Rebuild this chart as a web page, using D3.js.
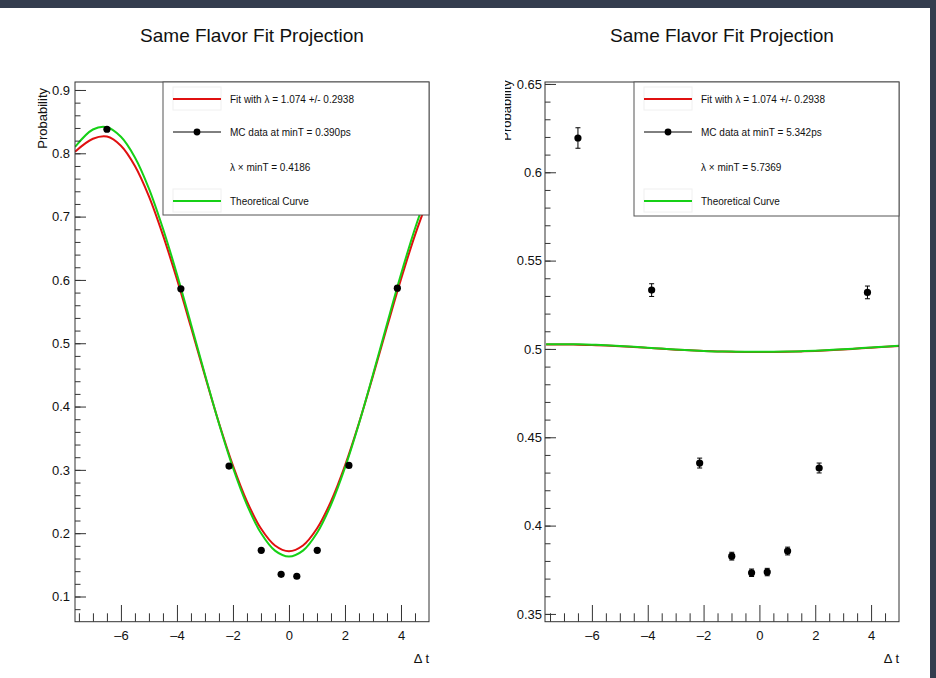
<!DOCTYPE html>
<html>
<head>
<meta charset="utf-8">
<script src="https://cdn.jsdelivr.net/npm/d3@7"></script>
<style>
html,body{margin:0;padding:0;background:#fff;}
svg{display:block;font-family:"Liberation Sans",Arial,Helvetica,sans-serif;}
</style>
</head>
<body>
<svg id="chart" width="936" height="678"></svg>
<script>
// ---------- data ----------
const titleText = "Same Flavor Fit Projection";
const yTitle = "Probability";
const xTitle = "\u0394 t";
const xMajorTicks = [-6, -4, -2, 0, 2, 4];
const xMinorTicks = [-7.5, -7, -6.5, -5.5, -5, -4.5, -3.5, -3, -2.5, -1.5, -1, -0.5, 0.5, 1, 1.5, 2.5, 3, 3.5, 4.5];
const leftYTicks = [0.1, 0.2, 0.3, 0.4, 0.5, 0.6, 0.7, 0.8, 0.9];
const rightYTicks = [0.35, 0.4, 0.45, 0.5, 0.55, 0.6, 0.65];

const pointX = [-6.5, -3.86, -2.14, -0.99, -0.28, 0.28, 1.01, 2.14, 3.87];
const leftPointY = [0.838, 0.586, 0.306, 0.173, 0.135, 0.132, 0.173, 0.307, 0.587];
const leftPointErr = [0.003, 0.003, 0.003, 0.002, 0.002, 0.002, 0.002, 0.003, 0.003];
const rightPointY = [0.6194, 0.5333, 0.4354, 0.3827, 0.3733, 0.3737, 0.3856, 0.4326, 0.532];
const rightPointErr = [0.0058, 0.0036, 0.0028, 0.0022, 0.0021, 0.0021, 0.0022, 0.0028, 0.0036];

const curveX = [-7.64, -7, -6.5, -6, -5.5, -5, -4.5, -4, -3.5, -3, -2.5, -2, -1.5, -1, -0.5, 0, 0.5, 1, 1.5, 2, 2.5, 3, 3.5, 4, 4.5, 5];
const leftFit = [0.8025, 0.823, 0.8265, 0.812, 0.780, 0.732, 0.6707, 0.601, 0.5255, 0.4485, 0.374, 0.3068, 0.2503, 0.2073, 0.1806, 0.1715, 0.1806, 0.2073, 0.2503, 0.3068, 0.374, 0.4485, 0.5255, 0.601, 0.6707, 0.7314];
const leftTheory = [0.810, 0.8376, 0.8412, 0.8261, 0.7935, 0.7443, 0.6812, 0.609, 0.5305, 0.4506, 0.3733, 0.3034, 0.2448, 0.2002, 0.1724, 0.163, 0.1724, 0.2002, 0.2448, 0.3034, 0.3733, 0.4506, 0.5305, 0.609, 0.6812, 0.7443];
const rightFit = [0.5025, 0.5025, 0.5024, 0.5022, 0.5019, 0.5015, 0.5011, 0.5006, 0.5001, 0.4996, 0.4992, 0.4988, 0.4986, 0.4984, 0.4983, 0.4983, 0.4983, 0.4984, 0.4986, 0.4989, 0.4993, 0.4997, 0.5002, 0.5007, 0.5012, 0.5017];
const rightTheory = [0.5027, 0.5027, 0.5026, 0.5024, 0.5021, 0.5017, 0.5012, 0.5007, 0.5002, 0.4997, 0.4993, 0.4989, 0.4986, 0.4985, 0.4984, 0.4984, 0.4984, 0.4985, 0.4987, 0.4990, 0.4994, 0.4998, 0.5003, 0.5008, 0.5013, 0.5018];

const legendFit = "Fit with \u03bb = 1.074 +/- 0.2938";
const legendMC = ["MC data at minT = 0.390ps", "MC data at minT = 5.342ps"];
const legendLam = ["\u03bb \u00d7 minT = 0.4186", "\u03bb \u00d7 minT = 5.7369"];
const legendTheory = "Theoretical Curve";

// ---------- layout ----------
const panels = [
  { id: 0, x0: 75, x1: 429, y0: 82, y1: 621.7, xDomain: [-7.64, 5.0], yDomain: [0.0602, 0.9126],
    yTicks: leftYTicks, yMinorStep: 0.02, pY: leftPointY, pErr: leftPointErr, fit: leftFit, theory: leftTheory,
    labelPad: 5, yTitleX: 47, yTitleEnd: 88, legX0: 163, caps: false },
  { id: 1, x0: 545, x1: 899, y0: 82, y1: 621.7, xDomain: [-7.68, 5.0], yDomain: [0.3456, 0.6511],
    yTicks: rightYTicks, yMinorStep: 0.01, pY: rightPointY, pErr: rightPointErr, fit: rightFit, theory: rightTheory,
    labelPad: 3, yTitleX: 511, yTitleEnd: 80, legX0: 634, caps: true, clipTitle: 505 }
];

const svg = d3.select("#chart");
svg.append("rect").attr("width", 936).attr("height", 678).attr("fill", "#fff");
const defs = svg.append("defs");

const RED = "#e01010", GREEN = "#16d016";

panels.forEach(p => {
  const g = svg.append("g");
  const x = d3.scaleLinear().domain(p.xDomain).range([p.x0, p.x1]);
  const y = d3.scaleLinear().domain(p.yDomain).range([p.y1, p.y0]);

  defs.append("clipPath").attr("id", "clip" + p.id)
    .append("rect").attr("x", p.x0).attr("y", p.y0).attr("width", p.x1 - p.x0).attr("height", p.y1 - p.y0);

  // title
  g.append("text").attr("x", (p.x0 + p.x1) / 2).attr("y", 42).attr("text-anchor", "middle")
    .attr("font-size", 19).attr("fill", "#111").text(titleText);

  // curves
  const plot = g.append("g").attr("clip-path", `url(#clip${p.id})`);
  const line = d3.line().x(d => x(d[0])).y(d => y(d[1])).curve(d3.curveCatmullRom);
  plot.append("path").attr("d", line(curveX.map((v, i) => [v, p.fit[i]])))
    .attr("fill", "none").attr("stroke", RED).attr("stroke-width", 2);
  plot.append("path").attr("d", line(curveX.map((v, i) => [v, p.theory[i]])))
    .attr("fill", "none").attr("stroke", GREEN).attr("stroke-width", 2);

  // points with error bars
  const pts = pointX.map((v, i) => ({ x: v, y: p.pY[i], e: p.pErr[i] }));
  const pg = plot.append("g");
  pg.selectAll("line.err").data(pts).join("line").attr("class", "err")
    .attr("x1", d => x(d.x)).attr("x2", d => x(d.x))
    .attr("y1", d => y(d.y - d.e)).attr("y2", d => y(d.y + d.e))
    .attr("stroke", "#000").attr("stroke-width", 1);
  if (p.caps) {
    ["lo", "hi"].forEach(k => {
      pg.selectAll("line.cap" + k).data(pts).join("line").attr("class", "cap" + k)
        .attr("x1", d => x(d.x) - 2.5).attr("x2", d => x(d.x) + 2.5)
        .attr("y1", d => y(k === "lo" ? d.y - d.e : d.y + d.e))
        .attr("y2", d => y(k === "lo" ? d.y - d.e : d.y + d.e))
        .attr("stroke", "#000").attr("stroke-width", 1);
    });
  }
  pg.selectAll("circle").data(pts).join("circle")
    .attr("cx", d => x(d.x)).attr("cy", d => y(d.y)).attr("r", 3.6).attr("fill", "#000");

  // axes
  const axCol = "#333";
  const xMin = g.append("g").attr("transform", `translate(0,${p.y1})`)
    .call(d3.axisBottom(x).tickValues(xMinorTicks).tickSize(-8.4).tickFormat(""));
  const xMaj = g.append("g").attr("transform", `translate(0,${p.y1})`)
    .call(d3.axisBottom(x).tickValues(xMajorTicks).tickSize(-16.7).tickPadding(9)
      .tickFormat(d => d < 0 ? "\u2013" + (-d) : String(d)));
  const yMinorVals = d3.range(Math.ceil(p.yDomain[0] / p.yMinorStep), Math.floor(p.yDomain[1] / p.yMinorStep) + 1)
    .map(k => +(k * p.yMinorStep).toFixed(4));
  const yMin = g.append("g").attr("transform", `translate(${p.x0},0)`)
    .call(d3.axisLeft(y).tickValues(yMinorVals).tickSize(-5.5).tickFormat(""));
  const yMaj = g.append("g").attr("transform", `translate(${p.x0},0)`)
    .call(d3.axisLeft(y).tickValues(p.yTicks).tickSize(-11).tickPadding(p.labelPad)
      .tickFormat(d => String(+d.toFixed(2))));
  [xMin, xMaj, yMin, yMaj].forEach(a => {
    a.select(".domain").remove();
    a.selectAll("line").attr("stroke", axCol);
    a.selectAll("text").attr("font-size", 13).attr("fill", "#111")
      .attr("font-family", "'Liberation Sans',Arial,Helvetica,sans-serif");
  });

  // frame
  g.append("rect").attr("x", p.x0).attr("y", p.y0).attr("width", p.x1 - p.x0).attr("height", p.y1 - p.y0)
    .attr("fill", "none").attr("stroke", axCol).attr("stroke-width", 1);

  // axis titles
  g.append("text").attr("x", p.x1).attr("y", 663).attr("text-anchor", "end")
    .attr("font-size", 13).attr("fill", "#111").text(xTitle);
  const yt = g.append("g");
  if (p.clipTitle) {
    defs.append("clipPath").attr("id", "tclip" + p.id).append("rect")
      .attr("x", p.clipTitle).attr("y", 0).attr("width", 100).attr("height", 300);
    yt.attr("clip-path", `url(#tclip${p.id})`);
  }
  yt.append("text").attr("transform", `translate(${p.yTitleX},${p.yTitleEnd}) rotate(-90)`)
    .attr("text-anchor", "end").attr("font-size", 13).attr("fill", "#111").text(yTitle);

  // legend
  const lx0 = p.legX0, lx1 = p.x1, ly0 = p.y0, ly1 = p.id === 0 ? 215 : 216;
  const lg = g.append("g");
  lg.append("rect").attr("x", lx0).attr("y", ly0).attr("width", lx1 - lx0).attr("height", ly1 - ly0)
    .attr("fill", "#fff").attr("stroke", "#555").attr("stroke-width", 1);
  const sx0 = lx0 + 10, sx1 = lx0 + 58, tx = lx0 + 67;
  const rows = [99, 132, 167, 201];
  [0, 3].forEach(r => {
    lg.append("rect").attr("x", sx0).attr("y", rows[r] - 12).attr("width", sx1 - sx0).attr("height", 23)
      .attr("fill", "none").attr("stroke", "#f0f0f0").attr("stroke-width", 1);
  });
  lg.append("line").attr("x1", sx0).attr("x2", sx1).attr("y1", rows[0]).attr("y2", rows[0])
    .attr("stroke", RED).attr("stroke-width", 2);
  lg.append("line").attr("x1", sx0).attr("x2", sx1).attr("y1", rows[1]).attr("y2", rows[1])
    .attr("stroke", "#000").attr("stroke-width", 1);
  lg.append("circle").attr("cx", (sx0 + sx1) / 2).attr("cy", rows[1]).attr("r", 3.4).attr("fill", "#000");
  lg.append("line").attr("x1", sx0).attr("x2", sx1).attr("y1", rows[3]).attr("y2", rows[3])
    .attr("stroke", GREEN).attr("stroke-width", 2);
  const texts = [legendFit, legendMC[p.id], legendLam[p.id], legendTheory];
  texts.forEach((t, i) => {
    lg.append("text").attr("x", tx).attr("y", rows[i]).attr("dy", "0.35em")
      .attr("font-size", 10).attr("fill", "#111").text(t);
  });
});

// dark window borders
svg.append("rect").attr("x", 0).attr("y", 0).attr("width", 936).attr("height", 8).attr("fill", "#343d4e");
svg.append("rect").attr("x", 930).attr("y", 0).attr("width", 6).attr("height", 678).attr("fill", "#343d4e");
</script>
</body>
</html>
